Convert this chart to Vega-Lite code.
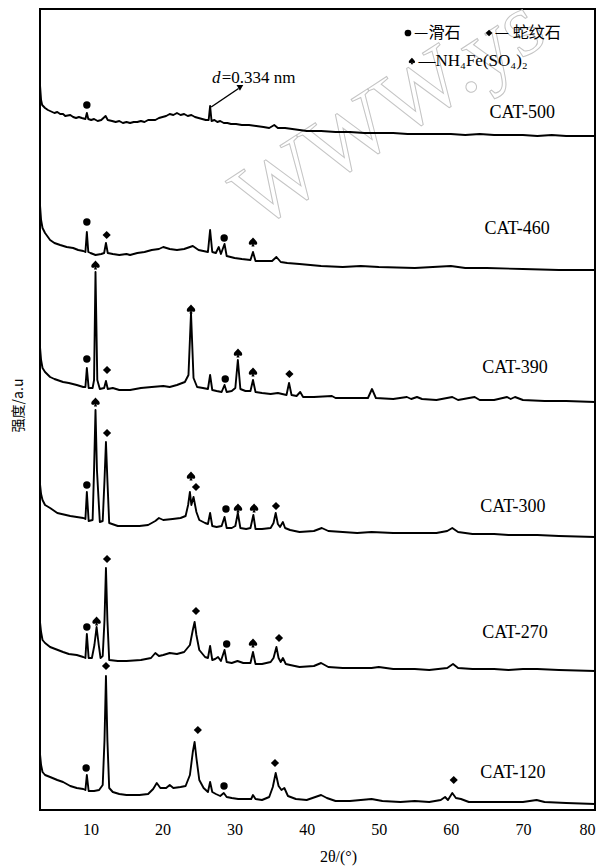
{
  "$schema": "https://vega.github.io/schema/vega-lite/v6.json",
  "width": 555,
  "height": 801,
  "autosize": {"type": "none"},
  "padding": {"left": 40, "top": 9, "right": 7, "bottom": 57},
  "background": "white",
  "config": {
    "view": {"stroke": "black", "strokeWidth": 2},
    "font": "Liberation Serif",
    "axis": {"labelColor": "black", "titleColor": "black"}
  },
  "datasets": {
    "xrd": [
      {"sample":"CAT-500","angle":3.0,"intensity":725},{"sample":"CAT-500","angle":3.15,"intensity":710},{"sample":"CAT-500","angle":3.3,"intensity":705},{"sample":"CAT-500","angle":3.7,"intensity":702},{"sample":"CAT-500","angle":4.1,"intensity":700},{"sample":"CAT-500","angle":4.4,"intensity":699},{"sample":"CAT-500","angle":5.0,"intensity":697},{"sample":"CAT-500","angle":5.4,"intensity":698},{"sample":"CAT-500","angle":5.8,"intensity":696},{"sample":"CAT-500","angle":6.2,"intensity":696},{"sample":"CAT-500","angle":6.5,"intensity":694},{"sample":"CAT-500","angle":7.2,"intensity":695},{"sample":"CAT-500","angle":7.6,"intensity":693},{"sample":"CAT-500","angle":8.0,"intensity":692},{"sample":"CAT-500","angle":8.4,"intensity":693},{"sample":"CAT-500","angle":8.8,"intensity":692},{"sample":"CAT-500","angle":9.3,"intensity":691},{"sample":"CAT-500","angle":9.5,"intensity":697},{"sample":"CAT-500","angle":9.7,"intensity":691},{"sample":"CAT-500","angle":10.1,"intensity":690},{"sample":"CAT-500","angle":10.5,"intensity":691},{"sample":"CAT-500","angle":11.0,"intensity":689},{"sample":"CAT-500","angle":11.5,"intensity":690},{"sample":"CAT-500","angle":12.1,"intensity":694},{"sample":"CAT-500","angle":12.4,"intensity":690},{"sample":"CAT-500","angle":13.0,"intensity":689},{"sample":"CAT-500","angle":13.5,"intensity":688},{"sample":"CAT-500","angle":14.0,"intensity":689},{"sample":"CAT-500","angle":14.5,"intensity":687},{"sample":"CAT-500","angle":15.0,"intensity":688},{"sample":"CAT-500","angle":15.5,"intensity":687},{"sample":"CAT-500","angle":16.0,"intensity":688},{"sample":"CAT-500","angle":16.5,"intensity":688},{"sample":"CAT-500","angle":17.0,"intensity":689},{"sample":"CAT-500","angle":17.5,"intensity":688},{"sample":"CAT-500","angle":18.0,"intensity":690},{"sample":"CAT-500","angle":18.5,"intensity":690},{"sample":"CAT-500","angle":19.0,"intensity":690},{"sample":"CAT-500","angle":19.5,"intensity":692},{"sample":"CAT-500","angle":20.0,"intensity":693},{"sample":"CAT-500","angle":20.5,"intensity":694},{"sample":"CAT-500","angle":21.0,"intensity":696},{"sample":"CAT-500","angle":21.5,"intensity":695},{"sample":"CAT-500","angle":22.0,"intensity":697},{"sample":"CAT-500","angle":22.5,"intensity":695},{"sample":"CAT-500","angle":23.0,"intensity":696},{"sample":"CAT-500","angle":23.5,"intensity":694},{"sample":"CAT-500","angle":24.0,"intensity":695},{"sample":"CAT-500","angle":24.5,"intensity":693},{"sample":"CAT-500","angle":25.0,"intensity":692},{"sample":"CAT-500","angle":25.5,"intensity":691},{"sample":"CAT-500","angle":26.0,"intensity":690},{"sample":"CAT-500","angle":26.4,"intensity":690},{"sample":"CAT-500","angle":26.6,"intensity":704},{"sample":"CAT-500","angle":26.8,"intensity":689},{"sample":"CAT-500","angle":27.2,"intensity":690},{"sample":"CAT-500","angle":27.6,"intensity":688},{"sample":"CAT-500","angle":28.0,"intensity":689},{"sample":"CAT-500","angle":28.5,"intensity":687},{"sample":"CAT-500","angle":29.0,"intensity":687},{"sample":"CAT-500","angle":29.5,"intensity":686},{"sample":"CAT-500","angle":30.2,"intensity":686},{"sample":"CAT-500","angle":31.0,"intensity":685},{"sample":"CAT-500","angle":32.0,"intensity":685},{"sample":"CAT-500","angle":33.0,"intensity":684},{"sample":"CAT-500","angle":34.0,"intensity":683},{"sample":"CAT-500","angle":34.8,"intensity":682},{"sample":"CAT-500","angle":35.5,"intensity":685},{"sample":"CAT-500","angle":36.0,"intensity":682},{"sample":"CAT-500","angle":37.0,"intensity":682},{"sample":"CAT-500","angle":38.0,"intensity":681},{"sample":"CAT-500","angle":39.0,"intensity":680},{"sample":"CAT-500","angle":40.0,"intensity":679},{"sample":"CAT-500","angle":42.0,"intensity":679},{"sample":"CAT-500","angle":44.0,"intensity":678},{"sample":"CAT-500","angle":46.0,"intensity":678},{"sample":"CAT-500","angle":48.0,"intensity":677},{"sample":"CAT-500","angle":50.0,"intensity":677},{"sample":"CAT-500","angle":52.0,"intensity":677},{"sample":"CAT-500","angle":54.0,"intensity":676},{"sample":"CAT-500","angle":56.0,"intensity":676},{"sample":"CAT-500","angle":58.0,"intensity":676},{"sample":"CAT-500","angle":60.0,"intensity":676},{"sample":"CAT-500","angle":62.0,"intensity":675},{"sample":"CAT-500","angle":64.0,"intensity":676},{"sample":"CAT-500","angle":66.0,"intensity":675},{"sample":"CAT-500","angle":68.0,"intensity":675},{"sample":"CAT-500","angle":70.0,"intensity":675},{"sample":"CAT-500","angle":72.0,"intensity":674},{"sample":"CAT-500","angle":74.0,"intensity":675},{"sample":"CAT-500","angle":76.0,"intensity":674},{"sample":"CAT-500","angle":78.0,"intensity":674},{"sample":"CAT-500","angle":80.0,"intensity":674},

      {"sample":"CAT-460","angle":3.0,"intensity":605},{"sample":"CAT-460","angle":3.15,"intensity":590},{"sample":"CAT-460","angle":3.35,"intensity":582},{"sample":"CAT-460","angle":3.7,"intensity":577},{"sample":"CAT-460","angle":4.4,"intensity":570},{"sample":"CAT-460","angle":5.0,"intensity":567},{"sample":"CAT-460","angle":5.8,"intensity":565},{"sample":"CAT-460","angle":6.7,"intensity":563},{"sample":"CAT-460","angle":7.6,"intensity":562},{"sample":"CAT-460","angle":8.3,"intensity":560},{"sample":"CAT-460","angle":9.0,"intensity":559},{"sample":"CAT-460","angle":9.3,"intensity":558},{"sample":"CAT-460","angle":9.5,"intensity":578},{"sample":"CAT-460","angle":9.7,"intensity":558},{"sample":"CAT-460","angle":10.0,"intensity":557},{"sample":"CAT-460","angle":10.7,"intensity":555},{"sample":"CAT-460","angle":11.5,"intensity":556},{"sample":"CAT-460","angle":11.9,"intensity":557},{"sample":"CAT-460","angle":12.15,"intensity":567},{"sample":"CAT-460","angle":12.4,"intensity":557},{"sample":"CAT-460","angle":13.1,"intensity":556},{"sample":"CAT-460","angle":14.0,"intensity":555},{"sample":"CAT-460","angle":15.0,"intensity":556},{"sample":"CAT-460","angle":15.5,"intensity":555},{"sample":"CAT-460","angle":16.5,"intensity":557},{"sample":"CAT-460","angle":17.5,"intensity":558},{"sample":"CAT-460","angle":18.5,"intensity":560},{"sample":"CAT-460","angle":19.5,"intensity":561},{"sample":"CAT-460","angle":20.1,"intensity":563},{"sample":"CAT-460","angle":21.0,"intensity":561},{"sample":"CAT-460","angle":22.0,"intensity":560},{"sample":"CAT-460","angle":23.0,"intensity":561},{"sample":"CAT-460","angle":24.2,"intensity":564},{"sample":"CAT-460","angle":25.0,"intensity":560},{"sample":"CAT-460","angle":26.3,"intensity":558},{"sample":"CAT-460","angle":26.6,"intensity":580},{"sample":"CAT-460","angle":26.9,"intensity":558},{"sample":"CAT-460","angle":27.4,"intensity":557},{"sample":"CAT-460","angle":27.8,"intensity":563},{"sample":"CAT-460","angle":28.1,"intensity":556},{"sample":"CAT-460","angle":28.6,"intensity":566},{"sample":"CAT-460","angle":28.9,"intensity":554},{"sample":"CAT-460","angle":30.0,"intensity":552},{"sample":"CAT-460","angle":31.0,"intensity":551},{"sample":"CAT-460","angle":32.2,"intensity":550},{"sample":"CAT-460","angle":32.55,"intensity":558},{"sample":"CAT-460","angle":32.9,"intensity":549},{"sample":"CAT-460","angle":34.0,"intensity":549},{"sample":"CAT-460","angle":35.2,"intensity":549},{"sample":"CAT-460","angle":35.8,"intensity":553},{"sample":"CAT-460","angle":36.4,"intensity":548},{"sample":"CAT-460","angle":37.3,"intensity":547},{"sample":"CAT-460","angle":39.0,"intensity":546},{"sample":"CAT-460","angle":42.0,"intensity":544},{"sample":"CAT-460","angle":45.0,"intensity":543},{"sample":"CAT-460","angle":47.5,"intensity":544},{"sample":"CAT-460","angle":50.0,"intensity":543},{"sample":"CAT-460","angle":55.0,"intensity":542},{"sample":"CAT-460","angle":60.0,"intensity":544},{"sample":"CAT-460","angle":62.0,"intensity":542},{"sample":"CAT-460","angle":65.0,"intensity":542},{"sample":"CAT-460","angle":70.0,"intensity":541},{"sample":"CAT-460","angle":75.0,"intensity":540},{"sample":"CAT-460","angle":80.0,"intensity":540},

      {"sample":"CAT-390","angle":3.0,"intensity":463},{"sample":"CAT-390","angle":3.15,"intensity":450},{"sample":"CAT-390","angle":3.35,"intensity":442},{"sample":"CAT-390","angle":3.7,"intensity":438},{"sample":"CAT-390","angle":4.4,"intensity":433},{"sample":"CAT-390","angle":5.0,"intensity":431},{"sample":"CAT-390","angle":6.2,"intensity":428},{"sample":"CAT-390","angle":7.0,"intensity":427},{"sample":"CAT-390","angle":8.1,"intensity":425},{"sample":"CAT-390","angle":9.0,"intensity":423},{"sample":"CAT-390","angle":9.3,"intensity":423},{"sample":"CAT-390","angle":9.5,"intensity":442},{"sample":"CAT-390","angle":9.75,"intensity":422},{"sample":"CAT-390","angle":10.3,"intensity":422},{"sample":"CAT-390","angle":10.5,"intensity":430},{"sample":"CAT-390","angle":10.7,"intensity":538},{"sample":"CAT-390","angle":10.95,"intensity":430},{"sample":"CAT-390","angle":11.3,"intensity":421},{"sample":"CAT-390","angle":11.9,"intensity":422},{"sample":"CAT-390","angle":12.15,"intensity":429},{"sample":"CAT-390","angle":12.4,"intensity":421},{"sample":"CAT-390","angle":13.1,"intensity":422},{"sample":"CAT-390","angle":14.0,"intensity":420},{"sample":"CAT-390","angle":15.5,"intensity":420},{"sample":"CAT-390","angle":17.0,"intensity":422},{"sample":"CAT-390","angle":18.5,"intensity":423},{"sample":"CAT-390","angle":20.1,"intensity":424},{"sample":"CAT-390","angle":21.0,"intensity":423},{"sample":"CAT-390","angle":22.0,"intensity":425},{"sample":"CAT-390","angle":23.1,"intensity":428},{"sample":"CAT-390","angle":23.6,"intensity":435},{"sample":"CAT-390","angle":23.95,"intensity":497},{"sample":"CAT-390","angle":24.3,"intensity":432},{"sample":"CAT-390","angle":24.8,"intensity":423},{"sample":"CAT-390","angle":25.6,"intensity":422},{"sample":"CAT-390","angle":26.3,"intensity":421},{"sample":"CAT-390","angle":26.6,"intensity":435},{"sample":"CAT-390","angle":26.9,"intensity":420},{"sample":"CAT-390","angle":27.5,"intensity":419},{"sample":"CAT-390","angle":28.2,"intensity":418},{"sample":"CAT-390","angle":28.6,"intensity":425},{"sample":"CAT-390","angle":28.9,"intensity":418},{"sample":"CAT-390","angle":29.6,"intensity":419},{"sample":"CAT-390","angle":30.1,"intensity":422},{"sample":"CAT-390","angle":30.45,"intensity":450},{"sample":"CAT-390","angle":30.8,"intensity":421},{"sample":"CAT-390","angle":31.5,"intensity":419},{"sample":"CAT-390","angle":32.2,"intensity":419},{"sample":"CAT-390","angle":32.55,"intensity":430},{"sample":"CAT-390","angle":32.9,"intensity":418},{"sample":"CAT-390","angle":33.8,"intensity":417},{"sample":"CAT-390","angle":35.0,"intensity":416},{"sample":"CAT-390","angle":36.0,"intensity":417},{"sample":"CAT-390","angle":37.2,"intensity":415},{"sample":"CAT-390","angle":37.55,"intensity":427},{"sample":"CAT-390","angle":37.9,"intensity":415},{"sample":"CAT-390","angle":38.6,"intensity":414},{"sample":"CAT-390","angle":39.1,"intensity":418},{"sample":"CAT-390","angle":39.5,"intensity":413},{"sample":"CAT-390","angle":41.0,"intensity":413},{"sample":"CAT-390","angle":43.5,"intensity":414},{"sample":"CAT-390","angle":44.0,"intensity":412},{"sample":"CAT-390","angle":46.0,"intensity":412},{"sample":"CAT-390","angle":48.5,"intensity":412},{"sample":"CAT-390","angle":49.06,"intensity":421},{"sample":"CAT-390","angle":49.6,"intensity":412},{"sample":"CAT-390","angle":52.0,"intensity":411},{"sample":"CAT-390","angle":53.9,"intensity":413},{"sample":"CAT-390","angle":54.5,"intensity":411},{"sample":"CAT-390","angle":55.3,"intensity":413},{"sample":"CAT-390","angle":56.0,"intensity":411},{"sample":"CAT-390","angle":58.0,"intensity":410},{"sample":"CAT-390","angle":60.2,"intensity":413},{"sample":"CAT-390","angle":61.0,"intensity":410},{"sample":"CAT-390","angle":63.3,"intensity":413},{"sample":"CAT-390","angle":64.0,"intensity":410},{"sample":"CAT-390","angle":66.0,"intensity":410},{"sample":"CAT-390","angle":67.8,"intensity":413},{"sample":"CAT-390","angle":68.3,"intensity":411},{"sample":"CAT-390","angle":68.9,"intensity":413},{"sample":"CAT-390","angle":70.0,"intensity":410},{"sample":"CAT-390","angle":73.0,"intensity":409},{"sample":"CAT-390","angle":76.0,"intensity":409},{"sample":"CAT-390","angle":80.0,"intensity":408},

      {"sample":"CAT-300","angle":3.0,"intensity":326},{"sample":"CAT-300","angle":3.15,"intensity":316},{"sample":"CAT-300","angle":3.35,"intensity":310},{"sample":"CAT-300","angle":3.7,"intensity":305},{"sample":"CAT-300","angle":4.4,"intensity":302},{"sample":"CAT-300","angle":5.4,"intensity":297},{"sample":"CAT-300","angle":6.0,"intensity":296},{"sample":"CAT-300","angle":7.2,"intensity":294},{"sample":"CAT-300","angle":8.1,"intensity":293},{"sample":"CAT-300","angle":9.0,"intensity":292},{"sample":"CAT-300","angle":9.3,"intensity":291},{"sample":"CAT-300","angle":9.5,"intensity":318},{"sample":"CAT-300","angle":9.75,"intensity":289},{"sample":"CAT-300","angle":10.3,"intensity":290},{"sample":"CAT-300","angle":10.5,"intensity":340},{"sample":"CAT-300","angle":10.7,"intensity":400},{"sample":"CAT-300","angle":10.9,"intensity":340},{"sample":"CAT-300","angle":11.3,"intensity":288},{"sample":"CAT-300","angle":11.7,"intensity":289},{"sample":"CAT-300","angle":11.95,"intensity":330},{"sample":"CAT-300","angle":12.15,"intensity":368},{"sample":"CAT-300","angle":12.35,"intensity":330},{"sample":"CAT-300","angle":12.6,"intensity":287},{"sample":"CAT-300","angle":13.8,"intensity":284},{"sample":"CAT-300","angle":15.0,"intensity":284},{"sample":"CAT-300","angle":16.8,"intensity":284},{"sample":"CAT-300","angle":18.0,"intensity":285},{"sample":"CAT-300","angle":19.0,"intensity":289},{"sample":"CAT-300","angle":19.5,"intensity":292},{"sample":"CAT-300","angle":20.1,"intensity":290},{"sample":"CAT-300","angle":21.4,"intensity":291},{"sample":"CAT-300","angle":22.5,"intensity":292},{"sample":"CAT-300","angle":23.2,"intensity":294},{"sample":"CAT-300","angle":23.55,"intensity":305},{"sample":"CAT-300","angle":23.8,"intensity":318},{"sample":"CAT-300","angle":24.0,"intensity":305},{"sample":"CAT-300","angle":24.3,"intensity":313},{"sample":"CAT-300","angle":24.7,"intensity":298},{"sample":"CAT-300","angle":25.1,"intensity":290},{"sample":"CAT-300","angle":25.9,"intensity":287},{"sample":"CAT-300","angle":26.3,"intensity":286},{"sample":"CAT-300","angle":26.6,"intensity":297},{"sample":"CAT-300","angle":26.9,"intensity":284},{"sample":"CAT-300","angle":27.5,"intensity":283},{"sample":"CAT-300","angle":28.2,"intensity":284},{"sample":"CAT-300","angle":28.6,"intensity":293},{"sample":"CAT-300","angle":28.9,"intensity":282},{"sample":"CAT-300","angle":29.6,"intensity":282},{"sample":"CAT-300","angle":30.1,"intensity":284},{"sample":"CAT-300","angle":30.45,"intensity":297},{"sample":"CAT-300","angle":30.8,"intensity":282},{"sample":"CAT-300","angle":31.6,"intensity":281},{"sample":"CAT-300","angle":32.2,"intensity":282},{"sample":"CAT-300","angle":32.6,"intensity":295},{"sample":"CAT-300","angle":32.9,"intensity":281},{"sample":"CAT-300","angle":33.8,"intensity":281},{"sample":"CAT-300","angle":35.0,"intensity":282},{"sample":"CAT-300","angle":35.4,"intensity":287},{"sample":"CAT-300","angle":35.7,"intensity":297},{"sample":"CAT-300","angle":36.0,"intensity":286},{"sample":"CAT-300","angle":36.3,"intensity":283},{"sample":"CAT-300","angle":36.7,"intensity":288},{"sample":"CAT-300","angle":37.0,"intensity":282},{"sample":"CAT-300","angle":37.7,"intensity":280},{"sample":"CAT-300","angle":39.0,"intensity":278},{"sample":"CAT-300","angle":41.0,"intensity":279},{"sample":"CAT-300","angle":42.1,"intensity":282},{"sample":"CAT-300","angle":43.0,"intensity":279},{"sample":"CAT-300","angle":45.0,"intensity":278},{"sample":"CAT-300","angle":47.0,"intensity":277},{"sample":"CAT-300","angle":49.0,"intensity":278},{"sample":"CAT-300","angle":52.0,"intensity":277},{"sample":"CAT-300","angle":55.0,"intensity":277},{"sample":"CAT-300","angle":58.0,"intensity":277},{"sample":"CAT-300","angle":59.5,"intensity":279},{"sample":"CAT-300","angle":60.2,"intensity":282},{"sample":"CAT-300","angle":61.0,"intensity":278},{"sample":"CAT-300","angle":63.0,"intensity":276},{"sample":"CAT-300","angle":66.0,"intensity":276},{"sample":"CAT-300","angle":68.0,"intensity":275},{"sample":"CAT-300","angle":70.0,"intensity":275},{"sample":"CAT-300","angle":72.0,"intensity":275},{"sample":"CAT-300","angle":75.0,"intensity":274},{"sample":"CAT-300","angle":80.0,"intensity":273},

      {"sample":"CAT-270","angle":3.0,"intensity":188},{"sample":"CAT-270","angle":3.15,"intensity":178},{"sample":"CAT-270","angle":3.35,"intensity":170},{"sample":"CAT-270","angle":3.7,"intensity":167},{"sample":"CAT-270","angle":4.4,"intensity":163},{"sample":"CAT-270","angle":6.2,"intensity":158},{"sample":"CAT-270","angle":7.0,"intensity":156},{"sample":"CAT-270","angle":8.1,"intensity":155},{"sample":"CAT-270","angle":9.0,"intensity":153},{"sample":"CAT-270","angle":9.3,"intensity":152},{"sample":"CAT-270","angle":9.5,"intensity":176},{"sample":"CAT-270","angle":9.75,"intensity":152},{"sample":"CAT-270","angle":10.2,"intensity":152},{"sample":"CAT-270","angle":10.55,"intensity":165},{"sample":"CAT-270","angle":10.85,"intensity":183},{"sample":"CAT-270","angle":11.15,"intensity":165},{"sample":"CAT-270","angle":11.4,"intensity":152},{"sample":"CAT-270","angle":11.7,"intensity":154},{"sample":"CAT-270","angle":11.95,"intensity":190},{"sample":"CAT-270","angle":12.15,"intensity":242},{"sample":"CAT-270","angle":12.35,"intensity":190},{"sample":"CAT-270","angle":12.6,"intensity":150},{"sample":"CAT-270","angle":13.8,"intensity":149},{"sample":"CAT-270","angle":15.0,"intensity":149},{"sample":"CAT-270","angle":17.0,"intensity":150},{"sample":"CAT-270","angle":18.4,"intensity":152},{"sample":"CAT-270","angle":19.0,"intensity":157},{"sample":"CAT-270","angle":19.5,"intensity":154},{"sample":"CAT-270","angle":20.1,"intensity":155},{"sample":"CAT-270","angle":21.0,"intensity":157},{"sample":"CAT-270","angle":22.0,"intensity":156},{"sample":"CAT-270","angle":23.0,"intensity":158},{"sample":"CAT-270","angle":23.8,"intensity":165},{"sample":"CAT-270","angle":24.2,"intensity":180},{"sample":"CAT-270","angle":24.45,"intensity":188},{"sample":"CAT-270","angle":24.7,"intensity":175},{"sample":"CAT-270","angle":25.1,"intensity":160},{"sample":"CAT-270","angle":25.9,"intensity":153},{"sample":"CAT-270","angle":26.3,"intensity":152},{"sample":"CAT-270","angle":26.6,"intensity":164},{"sample":"CAT-270","angle":26.9,"intensity":150},{"sample":"CAT-270","angle":27.3,"intensity":151},{"sample":"CAT-270","angle":27.7,"intensity":153},{"sample":"CAT-270","angle":28.1,"intensity":149},{"sample":"CAT-270","angle":28.6,"intensity":160},{"sample":"CAT-270","angle":28.9,"intensity":148},{"sample":"CAT-270","angle":29.6,"intensity":147},{"sample":"CAT-270","angle":30.4,"intensity":149},{"sample":"CAT-270","angle":31.2,"intensity":147},{"sample":"CAT-270","angle":32.2,"intensity":147},{"sample":"CAT-270","angle":32.55,"intensity":158},{"sample":"CAT-270","angle":32.9,"intensity":146},{"sample":"CAT-270","angle":33.8,"intensity":146},{"sample":"CAT-270","angle":35.0,"intensity":148},{"sample":"CAT-270","angle":35.4,"intensity":152},{"sample":"CAT-270","angle":35.8,"intensity":163},{"sample":"CAT-270","angle":36.1,"intensity":152},{"sample":"CAT-270","angle":36.4,"intensity":148},{"sample":"CAT-270","angle":36.7,"intensity":152},{"sample":"CAT-270","angle":37.1,"intensity":146},{"sample":"CAT-270","angle":37.7,"intensity":145},{"sample":"CAT-270","angle":39.0,"intensity":143},{"sample":"CAT-270","angle":41.0,"intensity":144},{"sample":"CAT-270","angle":42.0,"intensity":147},{"sample":"CAT-270","angle":43.0,"intensity":143},{"sample":"CAT-270","angle":45.0,"intensity":142},{"sample":"CAT-270","angle":47.0,"intensity":142},{"sample":"CAT-270","angle":49.0,"intensity":142},{"sample":"CAT-270","angle":50.0,"intensity":143},{"sample":"CAT-270","angle":52.0,"intensity":141},{"sample":"CAT-270","angle":55.0,"intensity":141},{"sample":"CAT-270","angle":57.0,"intensity":140},{"sample":"CAT-270","angle":59.5,"intensity":142},{"sample":"CAT-270","angle":60.3,"intensity":146},{"sample":"CAT-270","angle":61.0,"intensity":142},{"sample":"CAT-270","angle":63.0,"intensity":141},{"sample":"CAT-270","angle":66.0,"intensity":141},{"sample":"CAT-270","angle":68.0,"intensity":140},{"sample":"CAT-270","angle":70.0,"intensity":141},{"sample":"CAT-270","angle":72.0,"intensity":141},{"sample":"CAT-270","angle":75.0,"intensity":140},{"sample":"CAT-270","angle":80.0,"intensity":139},

      {"sample":"CAT-120","angle":3.0,"intensity":56},{"sample":"CAT-120","angle":3.15,"intensity":45},{"sample":"CAT-120","angle":3.35,"intensity":38},{"sample":"CAT-120","angle":3.7,"intensity":35},{"sample":"CAT-120","angle":4.4,"intensity":33},{"sample":"CAT-120","angle":5.4,"intensity":30},{"sample":"CAT-120","angle":6.2,"intensity":28},{"sample":"CAT-120","angle":7.2,"intensity":24},{"sample":"CAT-120","angle":8.1,"intensity":22},{"sample":"CAT-120","angle":9.0,"intensity":21},{"sample":"CAT-120","angle":9.3,"intensity":20},{"sample":"CAT-120","angle":9.5,"intensity":35},{"sample":"CAT-120","angle":9.75,"intensity":19},{"sample":"CAT-120","angle":10.5,"intensity":19},{"sample":"CAT-120","angle":11.2,"intensity":20},{"sample":"CAT-120","angle":11.7,"intensity":25},{"sample":"CAT-120","angle":11.95,"intensity":70},{"sample":"CAT-120","angle":12.15,"intensity":134},{"sample":"CAT-120","angle":12.35,"intensity":70},{"sample":"CAT-120","angle":12.6,"intensity":22},{"sample":"CAT-120","angle":13.1,"intensity":18},{"sample":"CAT-120","angle":14.0,"intensity":16},{"sample":"CAT-120","angle":15.0,"intensity":15},{"sample":"CAT-120","angle":16.8,"intensity":15},{"sample":"CAT-120","angle":18.0,"intensity":16},{"sample":"CAT-120","angle":18.7,"intensity":21},{"sample":"CAT-120","angle":19.2,"intensity":27},{"sample":"CAT-120","angle":19.7,"intensity":22},{"sample":"CAT-120","angle":20.5,"intensity":22},{"sample":"CAT-120","angle":21.0,"intensity":25},{"sample":"CAT-120","angle":21.5,"intensity":22},{"sample":"CAT-120","angle":22.5,"intensity":23},{"sample":"CAT-120","angle":23.2,"intensity":24},{"sample":"CAT-120","angle":23.8,"intensity":35},{"sample":"CAT-120","angle":24.2,"intensity":58},{"sample":"CAT-120","angle":24.45,"intensity":68},{"sample":"CAT-120","angle":24.7,"intensity":52},{"sample":"CAT-120","angle":25.1,"intensity":30},{"sample":"CAT-120","angle":25.7,"intensity":22},{"sample":"CAT-120","angle":26.3,"intensity":18},{"sample":"CAT-120","angle":26.6,"intensity":28},{"sample":"CAT-120","angle":26.9,"intensity":18},{"sample":"CAT-120","angle":27.4,"intensity":16},{"sample":"CAT-120","angle":28.0,"intensity":14},{"sample":"CAT-120","angle":28.5,"intensity":17},{"sample":"CAT-120","angle":28.9,"intensity":13},{"sample":"CAT-120","angle":29.6,"intensity":12},{"sample":"CAT-120","angle":30.5,"intensity":11},{"sample":"CAT-120","angle":31.5,"intensity":11},{"sample":"CAT-120","angle":32.3,"intensity":11},{"sample":"CAT-120","angle":32.55,"intensity":15},{"sample":"CAT-120","angle":32.9,"intensity":11},{"sample":"CAT-120","angle":33.8,"intensity":10},{"sample":"CAT-120","angle":34.8,"intensity":13},{"sample":"CAT-120","angle":35.3,"intensity":23},{"sample":"CAT-120","angle":35.7,"intensity":37},{"sample":"CAT-120","angle":36.1,"intensity":24},{"sample":"CAT-120","angle":36.5,"intensity":20},{"sample":"CAT-120","angle":36.9,"intensity":22},{"sample":"CAT-120","angle":37.4,"intensity":14},{"sample":"CAT-120","angle":38.5,"intensity":11},{"sample":"CAT-120","angle":40.0,"intensity":10},{"sample":"CAT-120","angle":42.0,"intensity":15},{"sample":"CAT-120","angle":42.8,"intensity":12},{"sample":"CAT-120","angle":44.0,"intensity":9},{"sample":"CAT-120","angle":46.0,"intensity":9},{"sample":"CAT-120","angle":47.5,"intensity":10},{"sample":"CAT-120","angle":49.0,"intensity":11},{"sample":"CAT-120","angle":50.5,"intensity":9},{"sample":"CAT-120","angle":53.0,"intensity":8},{"sample":"CAT-120","angle":55.0,"intensity":9},{"sample":"CAT-120","angle":57.0,"intensity":8},{"sample":"CAT-120","angle":58.6,"intensity":10},{"sample":"CAT-120","angle":59.2,"intensity":13},{"sample":"CAT-120","angle":59.6,"intensity":10},{"sample":"CAT-120","angle":60.2,"intensity":17},{"sample":"CAT-120","angle":60.7,"intensity":12},{"sample":"CAT-120","angle":61.4,"intensity":11},{"sample":"CAT-120","angle":62.5,"intensity":8},{"sample":"CAT-120","angle":65.0,"intensity":8},{"sample":"CAT-120","angle":68.0,"intensity":8},{"sample":"CAT-120","angle":70.0,"intensity":8},{"sample":"CAT-120","angle":71.9,"intensity":10},{"sample":"CAT-120","angle":73.0,"intensity":8},{"sample":"CAT-120","angle":76.0,"intensity":7},{"sample":"CAT-120","angle":80.0,"intensity":6}
    ],
    "peaks": [
      {"sample":"CAT-500","phase":"滑石","angle":9.5,"intensity":705},
      {"sample":"CAT-460","phase":"滑石","angle":9.5,"intensity":588},
      {"sample":"CAT-460","phase":"蛇纹石","angle":12.25,"intensity":575},
      {"sample":"CAT-460","phase":"滑石","angle":28.55,"intensity":572},
      {"sample":"CAT-460","phase":"NH₄Fe(SO₄)₂","angle":32.55,"intensity":568},
      {"sample":"CAT-390","phase":"滑石","angle":9.5,"intensity":451},
      {"sample":"CAT-390","phase":"NH₄Fe(SO₄)₂","angle":10.7,"intensity":545},
      {"sample":"CAT-390","phase":"蛇纹石","angle":12.3,"intensity":440},
      {"sample":"CAT-390","phase":"NH₄Fe(SO₄)₂","angle":23.95,"intensity":501},
      {"sample":"CAT-390","phase":"滑石","angle":28.7,"intensity":431},
      {"sample":"CAT-390","phase":"NH₄Fe(SO₄)₂","angle":30.47,"intensity":457},
      {"sample":"CAT-390","phase":"NH₄Fe(SO₄)₂","angle":32.55,"intensity":438},
      {"sample":"CAT-390","phase":"蛇纹石","angle":37.6,"intensity":436},
      {"sample":"CAT-300","phase":"滑石","angle":9.5,"intensity":325},
      {"sample":"CAT-300","phase":"NH₄Fe(SO₄)₂","angle":10.7,"intensity":408},
      {"sample":"CAT-300","phase":"蛇纹石","angle":12.3,"intensity":377},
      {"sample":"CAT-300","phase":"NH₄Fe(SO₄)₂","angle":23.95,"intensity":334},
      {"sample":"CAT-300","phase":"蛇纹石","angle":24.64,"intensity":323},
      {"sample":"CAT-300","phase":"滑石","angle":28.8,"intensity":301},
      {"sample":"CAT-300","phase":"NH₄Fe(SO₄)₂","angle":30.47,"intensity":302},
      {"sample":"CAT-300","phase":"NH₄Fe(SO₄)₂","angle":32.7,"intensity":302},
      {"sample":"CAT-300","phase":"蛇纹石","angle":35.74,"intensity":304},
      {"sample":"CAT-270","phase":"滑石","angle":9.5,"intensity":183},
      {"sample":"CAT-270","phase":"NH₄Fe(SO₄)₂","angle":10.85,"intensity":189},
      {"sample":"CAT-270","phase":"蛇纹石","angle":12.3,"intensity":251},
      {"sample":"CAT-270","phase":"蛇纹石","angle":24.64,"intensity":199},
      {"sample":"CAT-270","phase":"滑石","angle":28.9,"intensity":166},
      {"sample":"CAT-270","phase":"NH₄Fe(SO₄)₂","angle":32.55,"intensity":167},
      {"sample":"CAT-270","phase":"蛇纹石","angle":36.16,"intensity":172},
      {"sample":"CAT-120","phase":"滑石","angle":9.4,"intensity":42},
      {"sample":"CAT-120","phase":"蛇纹石","angle":12.16,"intensity":144},
      {"sample":"CAT-120","phase":"蛇纹石","angle":24.9,"intensity":80},
      {"sample":"CAT-120","phase":"滑石","angle":28.53,"intensity":24},
      {"sample":"CAT-120","phase":"蛇纹石","angle":35.6,"intensity":47},
      {"sample":"CAT-120","phase":"蛇纹石","angle":60.4,"intensity":30}
    ],
    "labels": [
      {"sample":"CAT-500","angle":69.9,"intensity":697},
      {"sample":"CAT-460","angle":69.2,"intensity":581},
      {"sample":"CAT-390","angle":68.9,"intensity":442},
      {"sample":"CAT-300","angle":68.6,"intensity":303},
      {"sample":"CAT-270","angle":68.9,"intensity":177},
      {"sample":"CAT-120","angle":68.6,"intensity":37}
    ],
    "keySymbols": [
      {"phase":"滑石","angle":54.05,"intensity":777},
      {"phase":"蛇纹石","angle":65.3,"intensity":777},
      {"phase":"NH₄Fe(SO₄)₂","angle":54.6,"intensity":749}
    ],
    "keyTexts": [
      {"text":"—滑石","angle":54.9,"intensity":777},
      {"text":"— 蛇纹石","angle":66.1,"intensity":777}
    ],
    "keyFormula": [
      {"text":"—NH₄Fe(SO₄)₂","angle":55.5,"intensity":749}
    ],
    "site": [
      {"text":"WWW.ys","angle":51.4,"intensity":697}
    ],
    "majorTicks": [{"angle":10},{"angle":20},{"angle":30},{"angle":40},{"angle":50},{"angle":60},{"angle":70},{"angle":80}],
    "minorTicks": [{"angle":5},{"angle":15},{"angle":25},{"angle":35},{"angle":45},{"angle":55},{"angle":65},{"angle":75}],
    "spacing": [{"angle":26.75,"intensity":703,"angle2":30.55,"intensity2":721.5}],
    "spacingHead": [{"angle":30.85,"intensity":723.5}],
    "spacingLabel": [{"angle":26.86,"intensity":732}],
    "spacingValue": [{"text":"=0.334 nm","angle":28.2,"intensity":732}]
  },
  "encoding": {
    "x": {
      "field": "angle",
      "type": "quantitative",
      "scale": {"domain": [3, 80], "nice": false, "zero": false},
      "axis": {
        "values": [10, 20, 30, 40, 50, 60, 70, 80],
        "ticks": false,
        "domain": false,
        "grid": false,
        "labelFont": "Liberation Serif",
        "labelFontSize": 16,
        "labelColor": "black",
        "labelPadding": 11,
        "title": "2θ/(°)",
        "titleFont": "Liberation Serif",
        "titleFontSize": 16,
        "titleFontWeight": "normal",
        "titleColor": "black",
        "titleX": 298,
        "titleY": 51,
        "titleBaseline": "alphabetic"
      }
    },
    "y": {
      "field": "intensity",
      "type": "quantitative",
      "scale": {"domain": [0, 801], "nice": false, "zero": false},
      "axis": {
        "labels": false,
        "ticks": false,
        "domain": false,
        "grid": false,
        "title": "强度/a.u",
        "titleFont": "Noto Sans CJK SC",
        "titleFontSize": 14,
        "titleFontWeight": "normal",
        "titleColor": "black",
        "titleAngle": -90,
        "titleAlign": "center",
        "titleBaseline": "middle",
        "titleX": -22,
        "titleY": 396
      }
    }
  },
  "layer": [
    {
      "data": {"name": "site"},
      "mark": {"type": "text", "align": "center", "baseline": "middle", "font": "Liberation Serif", "fontSize": 90, "angle": -33, "fill": "transparent", "stroke": "#c4c4c4", "strokeWidth": 1},
      "encoding": {"text": {"field": "text"}}
    },
    {
      "data": {"name": "xrd"},
      "mark": {"type": "line", "color": "black", "strokeWidth": 1.9, "strokeJoin": "round"},
      "encoding": {"detail": {"field": "sample"}}
    },
    {
      "data": {"name": "majorTicks"},
      "mark": {"type": "rule", "color": "black", "strokeWidth": 1.5},
      "encoding": {"y": {"datum": 0}, "y2": {"datum": 8}}
    },
    {
      "data": {"name": "minorTicks"},
      "mark": {"type": "rule", "color": "black", "strokeWidth": 1.5},
      "encoding": {"y": {"datum": 0}, "y2": {"datum": 5}}
    },
    {
      "data": {"name": "peaks"},
      "mark": {"type": "point", "filled": true, "color": "black", "opacity": 1},
      "encoding": {
        "shape": {
          "field": "phase",
          "type": "nominal",
          "scale": {
            "domain": ["滑石", "蛇纹石", "NH₄Fe(SO₄)₂"],
            "range": ["circle", "diamond", "M0,-1C0.35,-0.55 1,-0.15 0.95,0.3C0.9,0.7 0.45,0.75 0.15,0.45L0.35,1L-0.35,1L-0.15,0.45C-0.45,0.75 -0.9,0.7 -0.95,0.3C-1,-0.15 -0.35,-0.55 0,-1Z"]
          },
          "legend": null
        },
        "size": {
          "field": "phase",
          "type": "nominal",
          "scale": {"domain": ["滑石", "蛇纹石", "NH₄Fe(SO₄)₂"], "range": [55, 80, 110]},
          "legend": null
        }
      }
    },
    {
      "data": {"name": "keySymbols"},
      "mark": {"type": "point", "filled": true, "color": "black", "opacity": 1},
      "encoding": {
        "shape": {"field": "phase", "type": "nominal", "legend": null},
        "size": {"value": 45}
      }
    },
    {
      "data": {"name": "keyTexts"},
      "mark": {"type": "text", "align": "left", "baseline": "middle", "font": "Noto Sans CJK SC", "fontSize": 16, "color": "black"},
      "encoding": {"text": {"field": "text"}}
    },
    {
      "data": {"name": "keyFormula"},
      "mark": {"type": "text", "align": "left", "baseline": "middle", "font": "Liberation Serif", "fontSize": 17, "color": "black"},
      "encoding": {"text": {"field": "text"}}
    },
    {
      "data": {"name": "labels"},
      "mark": {"type": "text", "align": "center", "baseline": "middle", "font": "Liberation Serif", "fontSize": 18, "color": "black"},
      "encoding": {"text": {"field": "sample"}}
    },
    {
      "data": {"name": "spacing"},
      "mark": {"type": "rule", "color": "black", "strokeWidth": 1.5},
      "encoding": {"x2": {"field": "angle2"}, "y2": {"field": "intensity2"}}
    },
    {
      "data": {"name": "spacingHead"},
      "mark": {"type": "point", "shape": "triangle-up", "filled": true, "color": "black", "opacity": 1, "size": 45, "angle": 59},
      "encoding": {}
    },
    {
      "data": {"name": "spacingLabel"},
      "mark": {"type": "text", "text": "d", "align": "left", "baseline": "middle", "font": "Liberation Serif", "fontStyle": "italic", "fontSize": 17, "color": "black"},
      "encoding": {}
    },
    {
      "data": {"name": "spacingValue"},
      "mark": {"type": "text", "align": "left", "baseline": "middle", "font": "Liberation Serif", "fontSize": 17, "color": "black"},
      "encoding": {"text": {"field": "text"}}
    }
  ]
}
